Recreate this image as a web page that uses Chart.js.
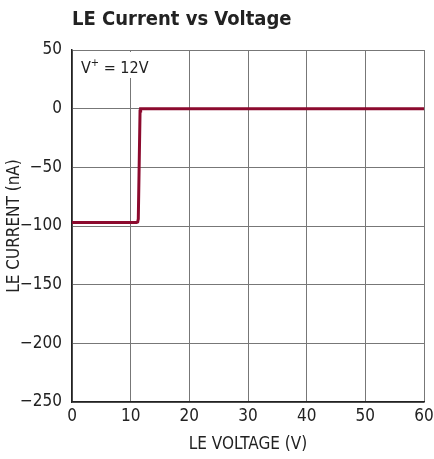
<!DOCTYPE html>
<html><head><meta charset="utf-8">
<script src="https://cdn.jsdelivr.net/npm/chart.js@4"></script>
<style>html,body{margin:0;padding:0;background:#fff}#wrap{width:434px;height:459px}</style>
</head><body><div id="wrap"><canvas id="c" width="434" height="459"></canvas></div>
<script>
const titleText = "LE Current vs Voltage";
const xLabel = "LE VOLTAGE (V)";
const yLabel = "LE CURRENT (nA)";
const voltage = [0, 5, 10, 11.0, 11.2, 11.3, 11.6, 11.7, 20, 30, 40, 50, 60];
const current = [-97, -97, -97, -97, -96.5, -94, -2, 0, 0, 0, 0, 0, 0];
const xTicks = [0, 10, 20, 30, 40, 50, 60];
const yTicks = [50, 0, -50, -100, -150, -200, -250];
const annotation = { x: 0, y: 50, main: "V", sup: "+", rest: " = 12V" };

const FONT = "'DejaVu Sans Condensed', Roboto, 'Liberation Sans', sans-serif";

const overlay = {
  id: 'overlay',
  afterDraw(chart) {
    const ctx = chart.ctx, xs = chart.scales.x, ys = chart.scales.y;
    ctx.save();
    ctx.fillStyle = '#222';
    ctx.font = "bold 20px " + FONT;
    ctx.textBaseline = 'middle';
    ctx.textAlign = 'left';
    ctx.fillText(titleText, chart.chartArea.left, 20);
    const px = xs.getPixelForValue(annotation.x), py = ys.getPixelForValue(annotation.y);
    ctx.fillStyle = '#fff';
    ctx.fillRect(px + 2, py + 2, 64, 26);
    ctx.fillStyle = '#222';
    ctx.textBaseline = 'alphabetic';
    ctx.font = "16px " + FONT;
    let tx = px + 9, ty = py + 23;
    ctx.fillText(annotation.main, tx, ty);
    tx += ctx.measureText(annotation.main).width;
    ctx.font = "11px " + FONT;
    ctx.fillText(annotation.sup, tx, ty - 7);
    tx += ctx.measureText(annotation.sup).width;
    ctx.font = "16px " + FONT;
    ctx.fillText(annotation.rest, tx, ty);
    ctx.restore();
  }
};

new Chart(document.getElementById('c'), {
  type: 'scatter',
  data: {
    datasets: [{
      data: voltage.map((v, i) => ({ x: v, y: current[i] })),
      showLine: true,
      borderColor: '#8c0a2e',
      borderWidth: 3,
      pointRadius: 0,
      tension: 0
    }]
  },
  options: {
    responsive: false,
    animation: false,
    devicePixelRatio: 1,
    layout: { padding: { top: 50, right: 0, left: 0, bottom: 0 } },
    plugins: { legend: { display: false }, tooltip: { enabled: false } },
    scales: {
      x: {
        type: 'linear', min: 0, max: 60,
        afterBuildTicks: s => { s.ticks = xTicks.map(v => ({ value: v })); },
        afterFit: s => { s.height = 57; s.paddingRight = 10; s.paddingLeft = 0; },
        grid: { color: '#777', lineWidth: 1, drawTicks: false },
        border: { color: '#222', width: 1.5 },
        ticks: { color: '#222', font: { family: FONT, size: 17 }, padding: 4, maxRotation: 0 },
        title: { display: true, text: xLabel, color: '#222', font: { family: FONT, size: 17 }, padding: { top: 0 } }
      },
      y: {
        type: 'linear', min: -250, max: 50,
        afterBuildTicks: s => { s.ticks = yTicks.map(v => ({ value: v })); },
        afterFit: s => { s.width = 72; },
        grid: { color: '#777', lineWidth: 1, drawTicks: false },
        border: { color: '#222', width: 1.5 },
        ticks: { color: '#222', font: { family: FONT, size: 17 }, padding: 10,
          callback: v => String(v).replace('-', '\u2212') },
        title: { display: true, text: yLabel, color: '#222', font: { family: FONT, size: 17 }, padding: { bottom: 0 } }
      }
    }
  },
  plugins: [overlay]
});
</script></body></html>
